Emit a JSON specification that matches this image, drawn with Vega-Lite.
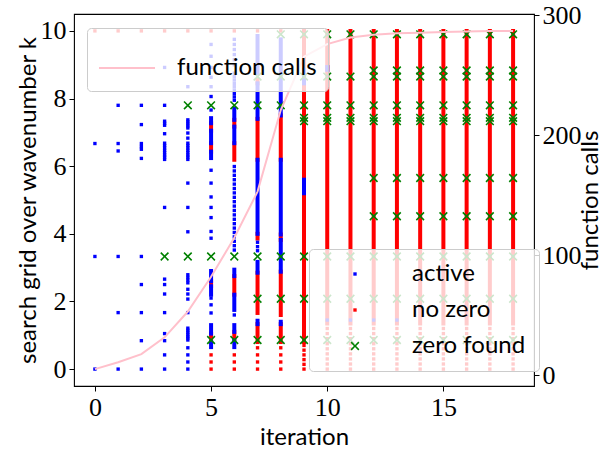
{
  "$schema": "https://vega.github.io/schema/vega-lite/v6.json",
  "width": 460,
  "height": 372,
  "autosize": "none",
  "padding": {"left": 74, "top": 14, "right": 74, "bottom": 67},
  "background": "white",
  "config": {
    "view": {"stroke": "black", "strokeWidth": 1.1},
    "axis": {"grid": false, "domain": false, "tickColor": "black", "tickSize": 5, "tickWidth": 1, "labelFont": "Liberation Serif", "labelFontSize": 26, "labelColor": "black", "labelPadding": 3, "labelFlush": false, "labelOverlap": false, "labelBound": false, "titleFont": "Lato", "titleFontSize": 24, "titleFontWeight": "normal", "titleColor": "black"},
    "legend": {"labelFont": "Lato", "labelFontSize": 24, "labelColor": "black"}
  },
  "datasets": {
    "seg": [
      {"i":5,"k":7.05,"k2":7.27,"s":"no zero"},{"i":5,"k":6.43,"k2":6.68,"s":"no zero"},{"i":5,"k":2.45,"k2":2.6,"s":"no zero"},{"i":5,"k":0.8,"k2":1.05,"s":"no zero"},
      {"i":6,"k":7.17,"k2":7.37,"s":"no zero"},{"i":6,"k":6.19,"k2":6.68,"s":"no zero"},{"i":6,"k":2.2,"k2":2.75,"s":"no zero"},{"i":6,"k":0.85,"k2":1.1,"s":"no zero"},
      {"i":7,"k":8.45,"k2":8.55,"s":"no zero"},{"i":7,"k":6.19,"k2":7.4,"s":"no zero"},{"i":7,"k":3.86,"k2":4.0,"s":"no zero"},{"i":7,"k":1.66,"k2":2.85,"s":"no zero"},{"i":7,"k":0.8,"k2":1.33,"s":"no zero"},
      {"i":8,"k":6.19,"k2":7.5,"s":"no zero"},{"i":8,"k":3.82,"k2":3.98,"s":"no zero"},{"i":8,"k":1.6,"k2":2.88,"s":"no zero"},{"i":8,"k":0.8,"k2":1.33,"s":"no zero"},
      {"i":9,"k":0.8,"k2":10,"s":"no zero"},
      {"i":10,"k":1.35,"k2":10,"s":"no zero"},{"i":11,"k":1.35,"k2":10,"s":"no zero"},{"i":12,"k":1.35,"k2":10,"s":"no zero"},{"i":13,"k":1.35,"k2":10,"s":"no zero"},{"i":14,"k":1.35,"k2":10,"s":"no zero"},{"i":15,"k":1.35,"k2":10,"s":"no zero"},{"i":16,"k":1.35,"k2":10,"s":"no zero"},{"i":17,"k":1.35,"k2":10,"s":"no zero"},{"i":18,"k":1.35,"k2":10,"s":"no zero"},
      {"i":5,"k":7.27,"k2":7.42,"s":"active"},{"i":5,"k":6.68,"k2":7.05,"s":"active"},{"i":5,"k":6.24,"k2":6.43,"s":"active"},{"i":5,"k":2.2,"k2":2.45,"s":"active"},{"i":5,"k":2.6,"k2":2.9,"s":"active"},{"i":5,"k":0.65,"k2":0.8,"s":"active"},{"i":5,"k":1.05,"k2":1.3,"s":"active"},
      {"i":6,"k":7.37,"k2":7.7,"s":"active"},{"i":6,"k":6.68,"k2":7.17,"s":"active"},{"i":6,"k":2.75,"k2":2.94,"s":"active"},{"i":6,"k":1.75,"k2":2.2,"s":"active"},{"i":6,"k":0.65,"k2":0.85,"s":"active"},{"i":6,"k":1.1,"k2":1.3,"s":"active"},
      {"i":7,"k":8.75,"k2":9.85,"s":"active"},{"i":7,"k":7.4,"k2":8.45,"s":"active"},{"i":7,"k":4.0,"k2":6.19,"s":"active"},{"i":7,"k":2.85,"k2":3.17,"s":"active"},{"i":7,"k":1.33,"k2":1.43,"s":"active"},
      {"i":8,"k":8.75,"k2":9.75,"s":"active"},{"i":8,"k":7.5,"k2":8.6,"s":"active"},{"i":8,"k":3.98,"k2":6.19,"s":"active"},{"i":8,"k":2.88,"k2":3.82,"s":"active"},{"i":8,"k":1.33,"k2":1.4,"s":"active"},
      {"i":9,"k":8.45,"k2":8.85,"s":"active"},{"i":9,"k":5.2,"k2":5.6,"s":"active"},
      {"i":10,"k":8.85,"k2":8.93,"s":"active"}
    ],
    "pts": [
      {"i":0,"k":0,"s":"active"},{"i":0,"k":3.33,"s":"active"},{"i":0,"k":6.67,"s":"active"},
      {"i":1,"k":0,"s":"active"},{"i":1,"k":1.67,"s":"active"},{"i":1,"k":3.33,"s":"active"},{"i":1,"k":6.45,"s":"active"},{"i":1,"k":6.67,"s":"active"},{"i":1,"k":7.8,"s":"active"},
      {"i":2,"k":0,"s":"active"},{"i":2,"k":0.84,"s":"active"},{"i":2,"k":1.67,"s":"active"},{"i":2,"k":2.5,"s":"active"},{"i":2,"k":3.33,"s":"active"},{"i":2,"k":6.23,"s":"active"},{"i":2,"k":6.5,"s":"active"},{"i":2,"k":6.58,"s":"active"},{"i":2,"k":6.67,"s":"active"},{"i":2,"k":7.23,"s":"active"},{"i":2,"k":7.8,"s":"active"},
      {"i":3,"k":0,"s":"active"},{"i":3,"k":0.42,"s":"active"},{"i":3,"k":0.84,"s":"active"},{"i":3,"k":1.05,"s":"active"},{"i":3,"k":1.67,"s":"active"},{"i":3,"k":2.22,"s":"active"},{"i":3,"k":2.5,"s":"active"},{"i":3,"k":2.66,"s":"active"},{"i":3,"k":4.78,"s":"active"},{"i":3,"k":6.2,"s":"active"},{"i":3,"k":6.27,"s":"active"},{"i":3,"k":6.33,"s":"active"},{"i":3,"k":6.4,"s":"active"},{"i":3,"k":6.47,"s":"active"},{"i":3,"k":6.54,"s":"active"},{"i":3,"k":6.61,"s":"active"},{"i":3,"k":6.68,"s":"active"},{"i":3,"k":6.96,"s":"active"},{"i":3,"k":7.21,"s":"active"},{"i":3,"k":7.27,"s":"active"},{"i":3,"k":7.33,"s":"active"},{"i":3,"k":7.8,"s":"active"},{"i":3,"k":8.92,"s":"active"},
      {"i":4,"k":0,"s":"active"},{"i":4,"k":0.21,"s":"active"},{"i":4,"k":0.42,"s":"active"},{"i":4,"k":0.63,"s":"active"},{"i":4,"k":0.86,"s":"active"},{"i":4,"k":0.92,"s":"active"},{"i":4,"k":0.97,"s":"active"},{"i":4,"k":1.03,"s":"active"},{"i":4,"k":1.09,"s":"active"},{"i":4,"k":1.15,"s":"active"},{"i":4,"k":1.21,"s":"active"},{"i":4,"k":1.67,"s":"active"},{"i":4,"k":2.07,"s":"active"},{"i":4,"k":2.22,"s":"active"},{"i":4,"k":2.36,"s":"active"},{"i":4,"k":2.55,"s":"active"},{"i":4,"k":2.63,"s":"active"},{"i":4,"k":2.71,"s":"active"},{"i":4,"k":2.79,"s":"active"},{"i":4,"k":4.06,"s":"active"},{"i":4,"k":4.78,"s":"active"},{"i":4,"k":5.5,"s":"active"},{"i":4,"k":6.2,"s":"active"},{"i":4,"k":6.27,"s":"active"},{"i":4,"k":6.33,"s":"active"},{"i":4,"k":6.4,"s":"active"},{"i":4,"k":6.47,"s":"active"},{"i":4,"k":6.54,"s":"active"},{"i":4,"k":6.61,"s":"active"},{"i":4,"k":6.68,"s":"active"},{"i":4,"k":6.83,"s":"active"},{"i":4,"k":6.98,"s":"active"},{"i":4,"k":7.13,"s":"active"},{"i":4,"k":7.19,"s":"active"},{"i":4,"k":7.25,"s":"active"},{"i":4,"k":7.31,"s":"active"},{"i":4,"k":7.37,"s":"active"},{"i":4,"k":8.35,"s":"active"},{"i":4,"k":8.92,"s":"active"},
      {"i":5,"k":1.66,"s":"active"},{"i":5,"k":1.9,"s":"active"},{"i":5,"k":2.1,"s":"active"},{"i":5,"k":3.87,"s":"active"},{"i":5,"k":4.07,"s":"active"},{"i":5,"k":4.48,"s":"active"},{"i":5,"k":4.78,"s":"active"},{"i":5,"k":5.09,"s":"active"},{"i":5,"k":5.5,"s":"active"},{"i":5,"k":5.88,"s":"active"},{"i":5,"k":7.66,"s":"active"},{"i":5,"k":8.06,"s":"active"},{"i":5,"k":8.35,"s":"active"},{"i":5,"k":8.63,"s":"active"},{"i":5,"k":8.92,"s":"active"},{"i":5,"k":9.25,"s":"active"},{"i":5,"k":9.6,"s":"active"},
      {"i":6,"k":1.6,"s":"active"},{"i":6,"k":3.52,"s":"active"},{"i":6,"k":3.65,"s":"active"},{"i":6,"k":3.78,"s":"active"},{"i":6,"k":3.91,"s":"active"},{"i":6,"k":4.04,"s":"active"},{"i":6,"k":4.17,"s":"active"},{"i":6,"k":4.3,"s":"active"},{"i":6,"k":4.43,"s":"active"},{"i":6,"k":4.56,"s":"active"},{"i":6,"k":4.69,"s":"active"},{"i":6,"k":4.82,"s":"active"},{"i":6,"k":4.95,"s":"active"},{"i":6,"k":5.08,"s":"active"},{"i":6,"k":5.21,"s":"active"},{"i":6,"k":5.34,"s":"active"},{"i":6,"k":5.47,"s":"active"},{"i":6,"k":5.6,"s":"active"},{"i":6,"k":5.73,"s":"active"},{"i":6,"k":5.86,"s":"active"},{"i":6,"k":5.99,"s":"active"},{"i":6,"k":7.95,"s":"active"},{"i":6,"k":8.05,"s":"active"},{"i":6,"k":8.15,"s":"active"},{"i":6,"k":8.25,"s":"active"},{"i":6,"k":8.35,"s":"active"},{"i":6,"k":8.45,"s":"active"},{"i":6,"k":8.55,"s":"active"},{"i":6,"k":8.65,"s":"active"},{"i":6,"k":8.75,"s":"active"},{"i":6,"k":9.0,"s":"active"},{"i":6,"k":9.15,"s":"active"},{"i":6,"k":9.3,"s":"active"},{"i":6,"k":9.45,"s":"active"},{"i":6,"k":9.6,"s":"active"},{"i":6,"k":9.75,"s":"active"},
      {"i":7,"k":3.5,"s":"active"},{"i":7,"k":3.62,"s":"active"},{"i":7,"k":3.75,"s":"active"},
      {"i":10,"k":1.45,"s":"active"},{"i":11,"k":1.45,"s":"active"},{"i":12,"k":1.45,"s":"active"},{"i":13,"k":1.45,"s":"active"},
      {"i":0,"k":10,"s":"no zero"},{"i":1,"k":10,"s":"no zero"},{"i":2,"k":10,"s":"no zero"},{"i":3,"k":10,"s":"no zero"},{"i":4,"k":10,"s":"no zero"},{"i":5,"k":10,"s":"no zero"},{"i":6,"k":10,"s":"no zero"},{"i":7,"k":10,"s":"no zero"},{"i":8,"k":10,"s":"no zero"},
      {"i":5,"k":0,"s":"no zero"},{"i":5,"k":0.21,"s":"no zero"},{"i":5,"k":0.42,"s":"no zero"},
      {"i":6,"k":0,"s":"no zero"},{"i":6,"k":0.21,"s":"no zero"},{"i":6,"k":0.42,"s":"no zero"},
      {"i":7,"k":0,"s":"no zero"},{"i":7,"k":0.21,"s":"no zero"},{"i":7,"k":0.42,"s":"no zero"},{"i":7,"k":0.63,"s":"no zero"},
      {"i":8,"k":0,"s":"no zero"},{"i":8,"k":0.21,"s":"no zero"},{"i":8,"k":0.42,"s":"no zero"},{"i":8,"k":0.63,"s":"no zero"},
      {"i":9,"k":0,"s":"no zero"},{"i":9,"k":0.14,"s":"no zero"},{"i":9,"k":0.28,"s":"no zero"},{"i":9,"k":0.42,"s":"no zero"},{"i":9,"k":0.56,"s":"no zero"},{"i":9,"k":0.7,"s":"no zero"},
      {"i":10,"k":0,"s":"no zero"},{"i":10,"k":0.15,"s":"no zero"},{"i":10,"k":0.3,"s":"no zero"},{"i":10,"k":0.45,"s":"no zero"},{"i":10,"k":0.6,"s":"no zero"},{"i":10,"k":0.75,"s":"no zero"},{"i":10,"k":0.9,"s":"no zero"},{"i":10,"k":1.05,"s":"no zero"},{"i":10,"k":1.2,"s":"no zero"},
      {"i":11,"k":0,"s":"no zero"},{"i":11,"k":0.15,"s":"no zero"},{"i":11,"k":0.3,"s":"no zero"},{"i":11,"k":0.45,"s":"no zero"},{"i":11,"k":0.6,"s":"no zero"},{"i":11,"k":0.75,"s":"no zero"},{"i":11,"k":0.9,"s":"no zero"},{"i":11,"k":1.05,"s":"no zero"},{"i":11,"k":1.2,"s":"no zero"},
      {"i":12,"k":0,"s":"no zero"},{"i":12,"k":0.15,"s":"no zero"},{"i":12,"k":0.3,"s":"no zero"},{"i":12,"k":0.45,"s":"no zero"},{"i":12,"k":0.6,"s":"no zero"},{"i":12,"k":0.75,"s":"no zero"},{"i":12,"k":0.9,"s":"no zero"},{"i":12,"k":1.05,"s":"no zero"},{"i":12,"k":1.2,"s":"no zero"},
      {"i":13,"k":0,"s":"no zero"},{"i":13,"k":0.15,"s":"no zero"},{"i":13,"k":0.3,"s":"no zero"},{"i":13,"k":0.45,"s":"no zero"},{"i":13,"k":0.6,"s":"no zero"},{"i":13,"k":0.75,"s":"no zero"},{"i":13,"k":0.9,"s":"no zero"},{"i":13,"k":1.05,"s":"no zero"},{"i":13,"k":1.2,"s":"no zero"},
      {"i":14,"k":0,"s":"no zero"},{"i":14,"k":0.15,"s":"no zero"},{"i":14,"k":0.3,"s":"no zero"},{"i":14,"k":0.45,"s":"no zero"},{"i":14,"k":0.6,"s":"no zero"},{"i":14,"k":0.75,"s":"no zero"},{"i":14,"k":0.9,"s":"no zero"},{"i":14,"k":1.05,"s":"no zero"},{"i":14,"k":1.2,"s":"no zero"},
      {"i":15,"k":0,"s":"no zero"},{"i":15,"k":0.15,"s":"no zero"},{"i":15,"k":0.3,"s":"no zero"},{"i":15,"k":0.45,"s":"no zero"},{"i":15,"k":0.6,"s":"no zero"},{"i":15,"k":0.75,"s":"no zero"},{"i":15,"k":0.9,"s":"no zero"},{"i":15,"k":1.05,"s":"no zero"},{"i":15,"k":1.2,"s":"no zero"},
      {"i":16,"k":0,"s":"no zero"},{"i":16,"k":0.15,"s":"no zero"},{"i":16,"k":0.3,"s":"no zero"},{"i":16,"k":0.45,"s":"no zero"},{"i":16,"k":0.6,"s":"no zero"},{"i":16,"k":0.75,"s":"no zero"},{"i":16,"k":0.9,"s":"no zero"},{"i":16,"k":1.05,"s":"no zero"},{"i":16,"k":1.2,"s":"no zero"},
      {"i":17,"k":0,"s":"no zero"},{"i":17,"k":0.15,"s":"no zero"},{"i":17,"k":0.3,"s":"no zero"},{"i":17,"k":0.45,"s":"no zero"},{"i":17,"k":0.6,"s":"no zero"},{"i":17,"k":0.75,"s":"no zero"},{"i":17,"k":0.9,"s":"no zero"},{"i":17,"k":1.05,"s":"no zero"},{"i":17,"k":1.2,"s":"no zero"},
      {"i":18,"k":0,"s":"no zero"},{"i":18,"k":0.15,"s":"no zero"},{"i":18,"k":0.3,"s":"no zero"},{"i":18,"k":0.45,"s":"no zero"},{"i":18,"k":0.6,"s":"no zero"},{"i":18,"k":0.75,"s":"no zero"},{"i":18,"k":0.9,"s":"no zero"},{"i":18,"k":1.05,"s":"no zero"},{"i":18,"k":1.2,"s":"no zero"},
      {"i":3,"k":3.33,"s":"zero found"},{"i":4,"k":3.33,"s":"zero found"},{"i":5,"k":3.33,"s":"zero found"},{"i":6,"k":3.33,"s":"zero found"},{"i":7,"k":3.33,"s":"zero found"},{"i":8,"k":3.33,"s":"zero found"},{"i":9,"k":3.33,"s":"zero found"},{"i":10,"k":3.33,"s":"zero found"},{"i":11,"k":3.33,"s":"zero found"},{"i":12,"k":3.33,"s":"zero found"},{"i":13,"k":3.33,"s":"zero found"},{"i":14,"k":3.33,"s":"zero found"},{"i":15,"k":3.33,"s":"zero found"},{"i":16,"k":3.33,"s":"zero found"},{"i":17,"k":3.33,"s":"zero found"},{"i":18,"k":3.33,"s":"zero found"},
      {"i":4,"k":7.8,"s":"zero found"},{"i":5,"k":7.8,"s":"zero found"},{"i":6,"k":7.8,"s":"zero found"},{"i":7,"k":7.8,"s":"zero found"},{"i":8,"k":7.8,"s":"zero found"},{"i":9,"k":7.8,"s":"zero found"},{"i":10,"k":7.8,"s":"zero found"},{"i":11,"k":7.8,"s":"zero found"},{"i":12,"k":7.8,"s":"zero found"},{"i":13,"k":7.8,"s":"zero found"},{"i":14,"k":7.8,"s":"zero found"},{"i":15,"k":7.8,"s":"zero found"},{"i":16,"k":7.8,"s":"zero found"},{"i":17,"k":7.8,"s":"zero found"},{"i":18,"k":7.8,"s":"zero found"},
      {"i":5,"k":0.86,"s":"zero found"},{"i":6,"k":0.86,"s":"zero found"},{"i":7,"k":0.86,"s":"zero found"},{"i":8,"k":0.86,"s":"zero found"},{"i":9,"k":0.86,"s":"zero found"},{"i":10,"k":0.86,"s":"zero found"},{"i":11,"k":0.86,"s":"zero found"},{"i":12,"k":0.86,"s":"zero found"},{"i":13,"k":0.86,"s":"zero found"},{"i":14,"k":0.86,"s":"zero found"},{"i":15,"k":0.86,"s":"zero found"},{"i":16,"k":0.86,"s":"zero found"},{"i":17,"k":0.86,"s":"zero found"},{"i":18,"k":0.86,"s":"zero found"},
      {"i":7,"k":2.08,"s":"zero found"},{"i":8,"k":2.08,"s":"zero found"},{"i":9,"k":2.08,"s":"zero found"},{"i":10,"k":2.08,"s":"zero found"},{"i":11,"k":2.08,"s":"zero found"},{"i":12,"k":2.08,"s":"zero found"},{"i":13,"k":2.08,"s":"zero found"},{"i":14,"k":2.08,"s":"zero found"},{"i":15,"k":2.08,"s":"zero found"},{"i":16,"k":2.08,"s":"zero found"},{"i":17,"k":2.08,"s":"zero found"},{"i":18,"k":2.08,"s":"zero found"},
      {"i":7,"k":8.65,"s":"zero found"},{"i":8,"k":8.65,"s":"zero found"},{"i":9,"k":8.65,"s":"zero found"},{"i":10,"k":8.65,"s":"zero found"},{"i":11,"k":8.65,"s":"zero found"},{"i":12,"k":8.65,"s":"zero found"},{"i":13,"k":8.65,"s":"zero found"},{"i":14,"k":8.65,"s":"zero found"},{"i":15,"k":8.65,"s":"zero found"},{"i":16,"k":8.65,"s":"zero found"},{"i":17,"k":8.65,"s":"zero found"},{"i":18,"k":8.65,"s":"zero found"},
      {"i":8,"k":9.9,"s":"zero found"},{"i":9,"k":9.9,"s":"zero found"},{"i":10,"k":9.9,"s":"zero found"},{"i":11,"k":9.9,"s":"zero found"},{"i":12,"k":9.9,"s":"zero found"},{"i":13,"k":9.9,"s":"zero found"},{"i":14,"k":9.9,"s":"zero found"},{"i":15,"k":9.9,"s":"zero found"},{"i":16,"k":9.9,"s":"zero found"},{"i":17,"k":9.9,"s":"zero found"},{"i":18,"k":9.9,"s":"zero found"},
      {"i":9,"k":7.43,"s":"zero found"},{"i":10,"k":7.43,"s":"zero found"},{"i":11,"k":7.43,"s":"zero found"},{"i":12,"k":7.43,"s":"zero found"},{"i":13,"k":7.43,"s":"zero found"},{"i":14,"k":7.43,"s":"zero found"},{"i":15,"k":7.43,"s":"zero found"},{"i":16,"k":7.43,"s":"zero found"},{"i":17,"k":7.43,"s":"zero found"},{"i":18,"k":7.43,"s":"zero found"},
      {"i":9,"k":7.33,"s":"zero found"},{"i":10,"k":7.33,"s":"zero found"},{"i":11,"k":7.33,"s":"zero found"},{"i":12,"k":7.33,"s":"zero found"},{"i":13,"k":7.33,"s":"zero found"},{"i":14,"k":7.33,"s":"zero found"},{"i":15,"k":7.33,"s":"zero found"},{"i":16,"k":7.33,"s":"zero found"},{"i":17,"k":7.33,"s":"zero found"},{"i":18,"k":7.33,"s":"zero found"},
      {"i":12,"k":8.83,"s":"zero found"},{"i":13,"k":8.83,"s":"zero found"},{"i":14,"k":8.83,"s":"zero found"},{"i":15,"k":8.83,"s":"zero found"},{"i":16,"k":8.83,"s":"zero found"},{"i":17,"k":8.83,"s":"zero found"},{"i":18,"k":8.83,"s":"zero found"},
      {"i":12,"k":5.65,"s":"zero found"},{"i":13,"k":5.65,"s":"zero found"},{"i":14,"k":5.65,"s":"zero found"},{"i":15,"k":5.65,"s":"zero found"},{"i":16,"k":5.65,"s":"zero found"},{"i":17,"k":5.65,"s":"zero found"},{"i":18,"k":5.65,"s":"zero found"},
      {"i":12,"k":4.52,"s":"zero found"},{"i":13,"k":4.52,"s":"zero found"},{"i":14,"k":4.52,"s":"zero found"},{"i":15,"k":4.52,"s":"zero found"},{"i":16,"k":4.52,"s":"zero found"},{"i":17,"k":4.52,"s":"zero found"},{"i":18,"k":4.52,"s":"zero found"}
    ],
    "calls": [
      {"i":0,"n":5},{"i":1,"n":10.7},{"i":2,"n":17.5},{"i":3,"n":31.5},{"i":4,"n":53},{"i":5,"n":82},{"i":6,"n":114.5},{"i":7,"n":153},{"i":8,"n":221},{"i":9,"n":265.5},{"i":10,"n":276},{"i":11,"n":281.5},{"i":12,"n":283.7},{"i":13,"n":285},{"i":14,"n":285.5},{"i":15,"n":286},{"i":16,"n":286.6},{"i":17,"n":287},{"i":18,"n":287}
    ]
  },
  "layer": [
    {
      "layer": [
        {
          "data": {"name": "seg"},
          "transform": [{"filter": {"field": "s", "equal": "no zero"}}],
          "mark": {"type": "rule", "strokeWidth": 4, "strokeCap": "square", "color": "#ff0000"},
          "encoding": {
            "x": {"field": "i", "type": "quantitative", "scale": {"domain": [-0.9, 18.9], "nice": false, "zero": false}, "axis": {"title": "iteration", "values": [0, 5, 10, 15], "titleX": 230, "titleY": 51, "titleBaseline": "middle"}},
            "y": {"field": "k", "type": "quantitative", "scale": {"domain": [-0.5, 10.5], "nice": false, "zero": false}, "axis": {"title": "search grid over wavenumber k", "values": [0, 2, 4, 6, 8, 10], "titleX": -46, "titleY": 186, "titleBaseline": "middle"}},
            "y2": {"field": "k2"}
          }
        },
        {
          "data": {"name": "seg"},
          "transform": [{"filter": {"field": "s", "equal": "active"}}],
          "mark": {"type": "rule", "strokeWidth": 4, "strokeCap": "square", "color": "#0000ff"},
          "encoding": {
            "x": {"field": "i", "type": "quantitative", "scale": {"domain": [-0.9, 18.9], "nice": false, "zero": false}, "axis": {"title": "iteration", "values": [0, 5, 10, 15], "titleX": 230, "titleY": 51, "titleBaseline": "middle"}},
            "y": {"field": "k", "type": "quantitative", "scale": {"domain": [-0.5, 10.5], "nice": false, "zero": false}, "axis": {"title": "search grid over wavenumber k", "values": [0, 2, 4, 6, 8, 10], "titleX": -46, "titleY": 186, "titleBaseline": "middle"}},
            "y2": {"field": "k2"}
          }
        },
        {
          "data": {"name": "pts"},
          "mark": {"type": "point", "filled": true, "size": 64, "opacity": 1, "strokeWidth": 0},
          "encoding": {
            "x": {"field": "i", "type": "quantitative", "scale": {"domain": [-0.9, 18.9], "nice": false, "zero": false}, "axis": {"title": "iteration", "values": [0, 5, 10, 15], "titleX": 230, "titleY": 51, "titleBaseline": "middle"}},
            "y": {"field": "k", "type": "quantitative", "scale": {"domain": [-0.5, 10.5], "nice": false, "zero": false}, "axis": {"title": "search grid over wavenumber k", "values": [0, 2, 4, 6, 8, 10], "titleX": -46, "titleY": 186, "titleBaseline": "middle"}},
            "color": {"field": "s", "type": "nominal", "scale": {"domain": ["active", "no zero", "zero found"], "range": ["#0000ff", "#ff0000", "#008000"]},
              "legend": {"orient": "none", "legendX": 235, "legendY": 235, "title": null, "padding": 13, "rowPadding": 12, "symbolOffset": 21, "labelOffset": 45, "symbolSize": 64, "fillColor": "rgba(255,255,255,0.8)", "strokeColor": "#cccccc", "cornerRadius": 4}},
            "shape": {"field": "s", "type": "nominal", "scale": {"domain": ["active", "no zero", "zero found"], "range": ["M-0.42,-0.42L0.42,-0.42L0.42,0.42L-0.42,0.42Z", "M-0.42,-0.42L0.42,-0.42L0.42,0.42L-0.42,0.42Z", "M-1.1,-0.82L-0.82,-1.1L0,-0.28L0.82,-1.1L1.1,-0.82L0.28,0L1.1,0.82L0.82,1.1L0,0.28L-0.82,1.1L-1.1,0.82L-0.28,0Z"]},
              "legend": {"orient": "none", "legendX": 235, "legendY": 235, "title": null, "padding": 13, "rowPadding": 12, "symbolOffset": 21, "labelOffset": 45, "symbolSize": 64, "fillColor": "rgba(255,255,255,0.8)", "strokeColor": "#cccccc", "cornerRadius": 4}}
          }
        }
      ]
    },
    {
      "data": {"name": "calls"},
      "mark": {"type": "line", "strokeWidth": 2},
      "encoding": {
        "x": {"field": "i", "type": "quantitative", "scale": {"domain": [-0.9, 18.9], "nice": false, "zero": false}, "axis": {"title": "iteration", "values": [0, 5, 10, 15], "titleX": 230, "titleY": 51, "titleBaseline": "middle"}},
        "y": {"field": "n", "type": "quantitative", "scale": {"domain": [-9.1, 301.1], "nice": false, "zero": false}, "axis": {"orient": "right", "title": "function calls", "values": [0, 100, 200, 300], "titleAngle": 270, "titleX": 56, "titleY": 186, "titleBaseline": "middle"}},
        "stroke": {"datum": "function calls", "type": "nominal", "scale": {"range": ["#ffc0cb"]},
          "legend": {"orient": "none", "legendX": 13, "legendY": 14, "title": null, "padding": 11, "symbolType": "stroke", "symbolSize": 3136, "symbolStrokeWidth": 2, "labelOffset": 21, "fillColor": "rgba(255,255,255,0.8)", "strokeColor": "#cccccc", "cornerRadius": 4}}
      }
    }
  ],
  "resolve": {"scale": {"y": "independent"}}
}
